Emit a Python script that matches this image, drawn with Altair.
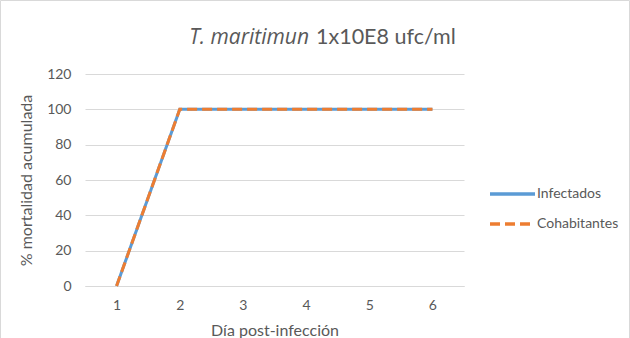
import altair as alt
import pandas as pd

dias = [1, 2, 3, 4, 5, 6]
infectados = [0, 100, 100, 100, 100, 100]
cohabitantes = [0, 100, 100, 100, 100, 100]
series = ["Infectados", "Cohabitantes"]
colores = ["#5B9BD5", "#ED7D31"]

rows = []
for d, v in zip(dias, infectados):
    rows.append({"dia": d, "valor": v, "serie": "Infectados"})
for d, v in zip(dias, cohabitantes):
    rows.append({"dia": d, "valor": v, "serie": "Cohabitantes"})
df = pd.DataFrame(rows)
df_leg = pd.DataFrame({"serie": series})

FONT = "Lato"
GREY = "#595959"

color_enc = alt.Color("serie:N", scale=alt.Scale(domain=series, range=colores), legend=None)
dash_enc = alt.StrokeDash("serie:N", scale=alt.Scale(domain=series, range=[[1, 0], [10, 5]]),
                          legend=None)

lines = alt.Chart(df).mark_line(strokeWidth=3, clip=False).encode(
    x=alt.X("dia:O", title="Día post-infección",
            scale=alt.Scale(type="point", padding=0.5),
            axis=alt.Axis(labelAngle=0, labelPadding=12, titlePadding=10, ticks=False,
                          domainColor="#d9d9d9", labelColor=GREY, titleColor=GREY,
                          labelFontSize=14, titleFontSize=16, titleFontWeight="normal",
                          labelFont=FONT, titleFont=FONT)),
    y=alt.Y("valor:Q", title="% mortalidad acumulada",
            scale=alt.Scale(domain=[0, 120], nice=False),
            axis=alt.Axis(values=[0, 20, 40, 60, 80, 100, 120], domain=False, ticks=False,
                          gridColor="#d9d9d9", labelPadding=14, titlePadding=12,
                          labelColor=GREY, titleColor=GREY, labelFontSize=14,
                          titleFontSize=16, titleFontWeight="normal",
                          labelFont=FONT, titleFont=FONT)),
    color=color_enc,
    strokeDash=dash_enc,
)

leg_y = alt.Y("serie:N", scale=alt.Scale(type="point", domain=series, range=[120, 150], padding=0),
              axis=None)
leg_rule = alt.Chart(df_leg).mark_rule(strokeWidth=3.5, clip=False).encode(
    x=alt.value(405), x2=alt.value(450), y=leg_y, color=color_enc, strokeDash=dash_enc)
leg_text = alt.Chart(df_leg).mark_text(align="left", baseline="middle", fontSize=14,
                                       font=FONT, color=GREY, clip=False).encode(
    x=alt.value(452), y=leg_y, text="serie:N")

one = alt.Data(values=[{}])
t1 = alt.Chart(one).mark_text(text="T. maritimun", fontStyle="italic", fontSize=21,
                              font="Open Sans", color=GREY, align="right", baseline="middle").encode(
    x=alt.value(224), y=alt.value(-36))
t2 = alt.Chart(one).mark_text(text="1x10E8 ufc/ml", fontSize=21.5,
                              font=FONT, color=GREY, align="left", baseline="middle").encode(
    x=alt.value(231), y=alt.value(-36))
frame = alt.Chart(one).mark_rect(fill=None, stroke="#d9d9d9", strokeWidth=1, clip=False).encode(
    x=alt.value(-84.5), x2=alt.value(544.5), y=alt.value(-73.5), y2=alt.value(270))

chart = alt.layer(frame, lines, leg_rule, leg_text, t1, t2).resolve_scale(
    y="independent"
).properties(
    width=379, height=212,
    padding={"left": 85, "top": 74, "right": 166, "bottom": 52},
    autosize=alt.AutoSizeParams(type="none"),
    background="white",
).configure_view(stroke=None)

chart.save("out.html", embed_options={"renderer": "svg", "actions": False})
